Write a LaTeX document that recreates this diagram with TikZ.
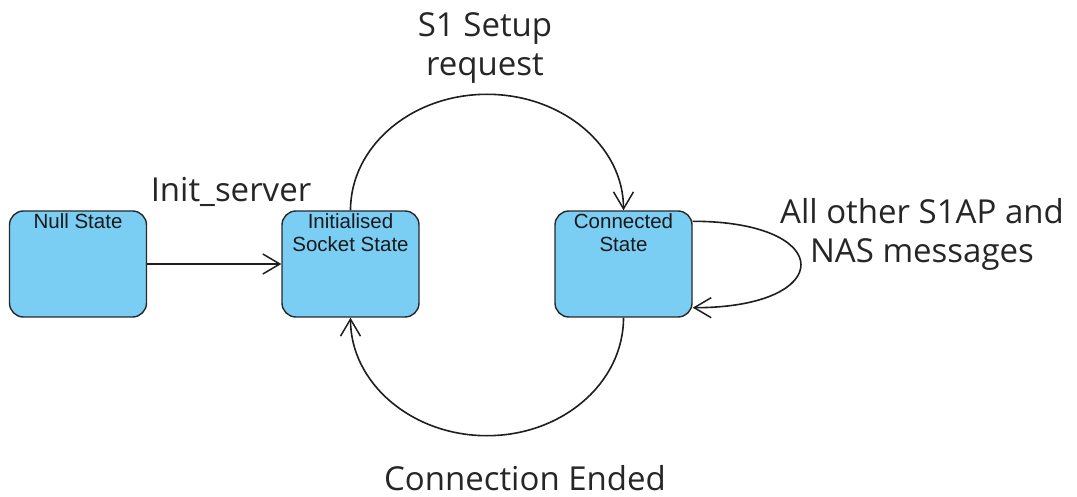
\documentclass[tikz,border=0pt]{standalone}
\usepackage{fontspec}
\newfontfamily\labelfont{Open Sans}
\newfontfamily\boxfont{Liberation Sans}
\usetikzlibrary{arrows.meta}
\definecolor{statefill}{RGB}{122,206,244}
\definecolor{stateline}{RGB}{40,40,40}
\definecolor{edgecol}{RGB}{30,30,30}
\tikzset{
  statebox/.style={draw=stateline, fill=statefill, line width=1.4pt, rounded corners=14pt,
    minimum width=137pt, minimum height=106pt, inner sep=0pt},
  boxtext/.style={anchor=north, align=center, inner sep=1pt, font=\boxfont\fontsize{20.5}{23.5}\selectfont, text=black!90},
  edge/.style={draw=edgecol, line width=1.6pt, -{Straight Barb[length=17pt,width=20pt,line width=1.5pt]}},
  lbl/.style={font=\labelfont\fontsize{33}{39}\selectfont, align=center, inner sep=0pt, text=black!85}
}
\begin{document}
\begin{tikzpicture}[x=1pt,y=1pt]
\useasboundingbox (0,0) rectangle (1077,496);
\node[statebox, label={[boxtext,yshift=-2pt]north:Null State}] (null) at (78,232) {};
\node[statebox, label={[boxtext,yshift=-2pt]north:Initialised\\Socket State}] (init) at (350.5,232) {};
\node[statebox, label={[boxtext,yshift=-2pt]north:Connected\\State}] (conn) at (623.5,232) {};

\draw[edge] (null) -- (init);
\draw[edge] (init.north) arc[start angle=180, end angle=0, x radius=136.5, y radius=116];
\draw[edge] (conn.south) arc[start angle=0, end angle=-180, x radius=136.5, y radius=118];
\draw[edge] ([yshift=-11pt]conn.north east) .. controls +(144,0) and +(144,0) .. ([yshift=10pt]conn.south east);

\node[lbl, anchor=base] (linit) at (231,294) {Init\_server};
\node[lbl] (lsetup) at (485,448) {S1 Setup\\request};
\node[lbl] (lself) at (922,262) {All other S1AP and\\NAS messages};
\node[lbl, anchor=base] (lend) at (525,6) {Connection Ended};
\end{tikzpicture}
\end{document}
